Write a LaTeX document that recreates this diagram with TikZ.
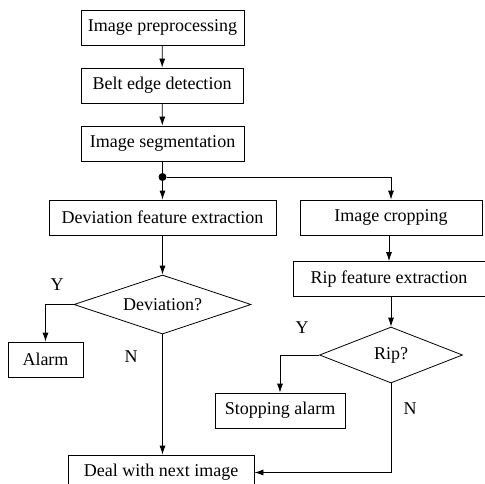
\documentclass[tikz,border=0pt]{standalone}
\usepackage{fontspec}
\setmainfont{Liberation Serif}
\usetikzlibrary{shapes.geometric,arrows.meta}

\begin{document}
\begin{tikzpicture}[x=1pt,y=-1pt]
    \tikzset{every node/.style={font=\fontsize{18}{20}\selectfont,inner sep=0pt}}
    \tikzset{box/.style={draw=black,line width=0.8pt,rectangle,minimum height=35pt}}
    \tikzset{decision/.style={draw=black,line width=0.8pt,diamond,aspect=3}}
    \tikzset{edge/.style={line width=0.8pt,-{Latex[length=9pt,width=6pt]}}}
    \useasboundingbox (0,0) rectangle (485,483);

    \node[box,minimum width=163pt] (1) at (162.5, 27.5) {Image preprocessing};
    \node[box,minimum width=162pt] (2) at (162, 85.5) {Belt edge detection};
    \node[box,minimum width=163pt] (3) at (162.5, 143.5) {Image segmentation};

    \node[circle,fill=black,minimum size=8pt] (dot) at (162.5, 177) {};

    \node[box,minimum width=227pt] (41) at (162.5, 217.5) {Deviation feature extraction};
    \node[box,minimum width=182pt] (42) at (391, 217.5) {Image cropping};
    \node[box,minimum width=192pt] (52) at (389, 279) {Rip feature extraction};

    \node[decision,minimum width=177pt,minimum height=59pt] (d1) at (162.5, 304.5) {Deviation?};
    \node[decision,minimum width=143pt,minimum height=56pt] (d2) at (391, 355) {Rip?};

    \node[box,minimum width=75pt] (alarm) at (45.5, 359.5) {Alarm};
    \node[box,minimum width=130pt] (stop) at (280, 410.5) {Stopping alarm};
    \node[box,minimum width=186pt] (next) at (161, 472.5) {Deal with next image};

    \node (y1) at (57, 285) {Y};
    \node (n1) at (131, 357) {N};
    \node (y2) at (302, 328) {Y};
    \node (n2) at (410, 409) {N};

    \draw[edge] (1) -- (2);
    \draw[edge] (2) -- (3);
    \draw[line width=0.8pt] (3) -- (dot);
    \draw[edge] (dot) -- (41);
    \draw[edge] (dot) -| (42);
    \draw[edge] (41) -- (d1);
    \draw[edge] (42.south -| 52) -- (52);
    \draw[edge] (52.south -| d2) -- (d2);
    \draw[edge] (d1.west) -| (alarm);
    \draw[edge] (d2.west) -| (stop);
    \draw[edge] (d1.south) -- (d1.south |- next.north);
    \draw[edge] (d2.south) |- (next.east);
\end{tikzpicture}
\end{document}
